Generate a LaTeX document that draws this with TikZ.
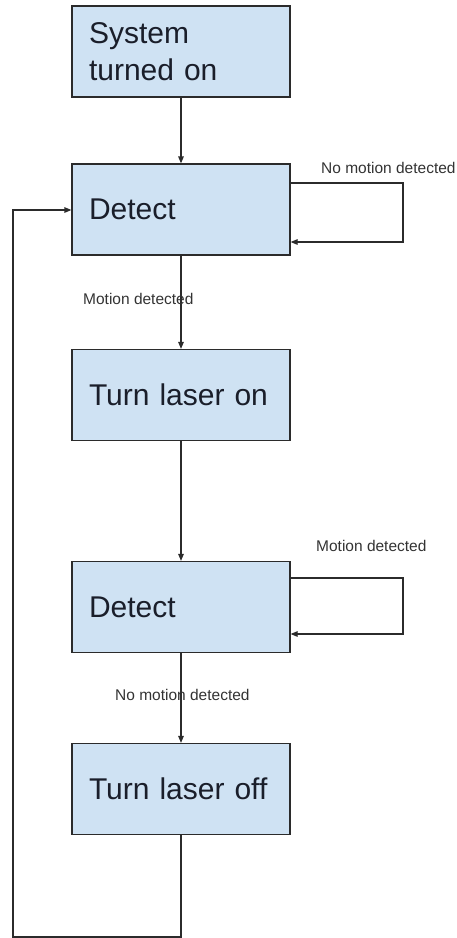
\documentclass[tikz,border=0pt]{standalone}
\usepackage{fontspec}
\setmainfont{Liberation Sans}
\usetikzlibrary{arrows.meta}
\definecolor{boxfill}{HTML}{CFE2F3}
\definecolor{boxline}{HTML}{2B2B2B}
\definecolor{labtext}{HTML}{333333}
\definecolor{boxtext}{HTML}{1A1E2A}
\tikzset{
  stepbox/.style={draw=boxline, fill=boxfill, line width=1.2pt,
    minimum width=218pt, minimum height=91pt, text width=184pt,
    inner xsep=17pt, inner ysep=0pt, align=left, text=boxtext,
    font=\fontsize{30}{37}\selectfont},
  conn/.style={draw=boxline, line width=1.2pt},
  arr/.style={conn, -{Triangle[length=7pt,width=5.5pt]}},
  lab/.style={inner sep=0pt, text=labtext, font=\fontsize{15.5}{18}\selectfont}
}
\begin{document}
\begin{tikzpicture}[x=1pt,y=-1pt]
\useasboundingbox (0,0) rectangle (457,938);
\node[stepbox] (b1) at (181,51.5) {System\\turned on};
\node[stepbox] (b2) at (181,209.5) {Detect};
\node[stepbox] (b3) at (181,395) {Turn laser on};
\node[stepbox] (b4) at (181,607) {Detect};
\node[stepbox] (b5) at (181,789) {Turn laser off};

\coordinate (l1a) at (403,183);
\coordinate (l1b) at (403,242);
\coordinate (l2a) at (403,578);
\coordinate (l2b) at (403,634);
\coordinate (f1) at (181,937);
\coordinate (f2) at (13,937);
\coordinate (f3) at (13,210);

\draw[arr] (b1.south) -- (b2.north);
\draw[arr] (b2.east |- l1a) -- (l1a) -- (l1b) -- (b2.east |- l1b);
\draw[arr] (b2.south) -- (b3.north);
\draw[arr] (b3.south) -- (b4.north);
\draw[arr] (b4.east |- l2a) -- (l2a) -- (l2b) -- (b4.east |- l2b);
\draw[arr] (b4.south) -- (b5.north);
\draw[arr] (b5.south) -- (f1) -- (f2) -- (f3) -- (b2.west |- f3);

\node[lab, anchor=west] (t1) at (321,168) {No motion detected};
\node[lab, anchor=west] (t2) at (83,299) {Motion detected};
\node[lab, anchor=west] (t3) at (316,546) {Motion detected};
\node[lab, anchor=west] (t4) at (115,695) {No motion detected};
\end{tikzpicture}
\end{document}
